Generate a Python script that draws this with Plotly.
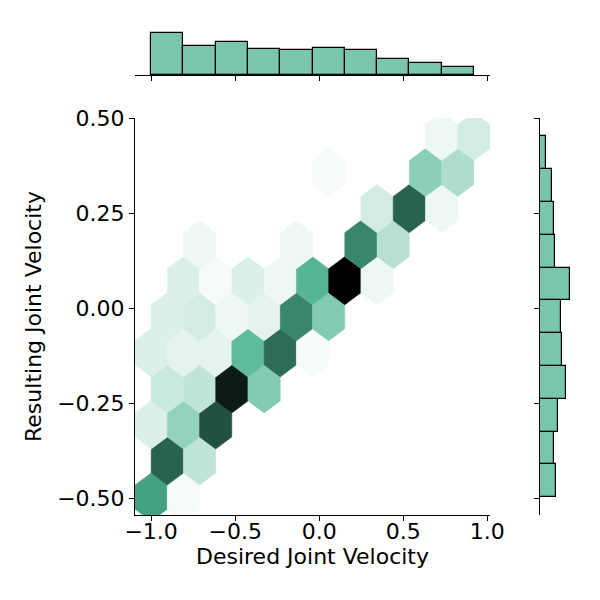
import colorsys
import plotly.graph_objects as go
from plotly.colors import sample_colorscale

# hexbin lattice (gridsize 10): column / row index on the staggered grid
x_start = -1.0
y_start = -0.496
hex_w = 0.192
hex_h = 0.1896

hex_col = [0, 2,
           1, 3,
           0, 2, 4,
           1, 3, 5, 7,
           0, 2, 4, 6, 8, 10,
           1, 3, 5, 7, 9, 11,
           2, 4, 6, 8, 10, 12, 14,
           3, 9, 13, 15,
           14, 16, 18,
           11, 17, 19,
           18, 20]
hex_row = [0, 0,
           1, 1,
           2, 2, 2,
           3, 3, 3, 3,
           4, 4, 4, 4, 4, 4,
           5, 5, 5, 5, 5, 5,
           6, 6, 6, 6, 6, 6, 6,
           7, 7, 7, 7,
           8, 8, 8,
           9, 9, 9,
           10, 10]
hex_count = [23, 2,
             30, 8,
             5, 13, 32,
             7, 8, 38, 15,
             5, 4, 4, 19, 29, 2,
             5, 6, 3, 4, 26, 15,
             5, 2, 5, 3, 20, 41, 3,
             3, 3, 26, 9,
             6, 30, 3,
             2, 14, 10,
             3, 6]

# marginal histograms
x_bin_start, x_bin_size = -1.0, 0.192
x_hist = [84, 59, 66, 53, 51, 55, 51, 32, 25, 17]
y_bin_start, y_bin_size = -0.496, 0.0862
y_hist = [42, 37, 47, 67, 57, 55, 76, 39, 35, 30, 15]

x_ticks = [-1.0, -0.5, 0.0, 0.5, 1.0]
x_labels = ["−1.0", "−0.5", "0.0", "0.5", "1.0"]
y_ticks = [-0.5, -0.25, 0.0, 0.25, 0.5]
y_labels = ["−0.50", "−0.25", "0.00", "0.25", "0.50"]

base = "#4CB391"
bar_fill = "rgba(76,179,145,0.75)"
FONT = "DejaVu Sans"
FS = 22

# white -> base -> black ramp, same idea as seaborn's hex cmap
r, g, b = [int(base[i:i + 2], 16) / 255 for i in (1, 3, 5)]
h, l, s = colorsys.rgb_to_hls(r, g, b)
n = 12
cscale = []
for i in range(n):
    rr, gg, bb = colorsys.hls_to_rgb(h, 1 - i / (n - 1), s)
    cscale.append([i / (n - 1), f"rgb({rr*255:.0f},{gg*255:.0f},{bb*255:.0f})"])

cmin, cmax = 1, max(hex_count)
dx = [0.5, 0.5, 0, -0.5, -0.5, 0, 0.5]
dy = [-1 / 6, 1 / 6, 1 / 3, 1 / 6, -1 / 6, -1 / 3, -1 / 6]

fig = go.Figure()
for c, rw, cnt in zip(hex_col, hex_row, hex_count):
    cx = x_start + c * hex_w / 2
    cy = y_start + rw * hex_h / 2
    col = sample_colorscale(cscale, [(cnt - cmin) / (cmax - cmin)])[0]
    fig.add_trace(go.Scatter(
        x=[cx + d * hex_w for d in dx],
        y=[cy + d * hex_h for d in dy],
        mode="lines", fill="toself", fillcolor=col,
        line=dict(color=col, width=0.5),
        hoverinfo="skip", showlegend=False,
    ))

fig.add_trace(go.Bar(
    x=[x_bin_start + (i + 0.5) * x_bin_size for i in range(len(x_hist))],
    y=x_hist, width=x_bin_size,
    marker=dict(color=bar_fill, line=dict(color="black", width=1.2)),
    xaxis="x2", yaxis="y2", showlegend=False,
))
fig.add_trace(go.Bar(
    y=[y_bin_start + (i + 0.5) * y_bin_size for i in range(len(y_hist))],
    x=y_hist, width=y_bin_size, orientation="h",
    marker=dict(color=bar_fill, line=dict(color="black", width=1.2)),
    xaxis="x3", yaxis="y3", showlegend=False,
))

# page body adds an 8px offset, so place axes from screen pixels minus that
OFF = 8


def xdom(a, b):
    return [(a - OFF) / 600, (b - OFF) / 600]


def ydom(top, bottom):
    return [1 - (bottom - OFF) / 600, 1 - (top - OFF) / 600]


axis_style = dict(
    showline=True, linecolor="black", linewidth=1.1,
    ticks="outside", ticklen=5, tickwidth=1.1, tickcolor="black",
    showgrid=False, zeroline=False, automargin=False,
    tickfont=dict(family=FONT, size=FS, color="black"),
)
main_x_dom = xdom(135, 490)
main_y_dom = ydom(118, 515)
x_range = [-1.096, 1.016]
y_range = [-0.543, 0.5005]

fig.update_layout(
    width=600, height=600,
    margin=dict(l=0, r=0, t=0, b=0, autoexpand=False),
    plot_bgcolor="white", paper_bgcolor="white",
    font=dict(family=FONT, size=FS, color="black"),
    bargap=0,
    xaxis=dict(axis_style, domain=main_x_dom, range=x_range, anchor="y",
               tickvals=x_ticks, ticktext=x_labels, ticklabelstandoff=-8,
               title=dict(text="Desired Joint Velocity", standoff=2,
                          font=dict(family=FONT, size=FS))),
    yaxis=dict(axis_style, domain=main_y_dom, range=y_range, anchor="x",
               tickvals=y_ticks, ticktext=y_labels,
               title=dict(text="Resulting Joint Velocity", standoff=9,
                          font=dict(family=FONT, size=FS))),
    xaxis2=dict(axis_style, domain=main_x_dom, range=x_range, anchor="y2",
                tickvals=x_ticks, showticklabels=False),
    yaxis2=dict(domain=ydom(31, 75),
                range=[0, max(x_hist) * 1.05], anchor="x2", visible=False),
    xaxis3=dict(domain=xdom(540, 571),
                range=[0, max(y_hist) * 1.05], anchor="y3", visible=False),
    yaxis3=dict(axis_style, domain=main_y_dom, range=y_range, anchor="x3",
                tickvals=y_ticks, showticklabels=False),
)

fig.write_html("out.html")
